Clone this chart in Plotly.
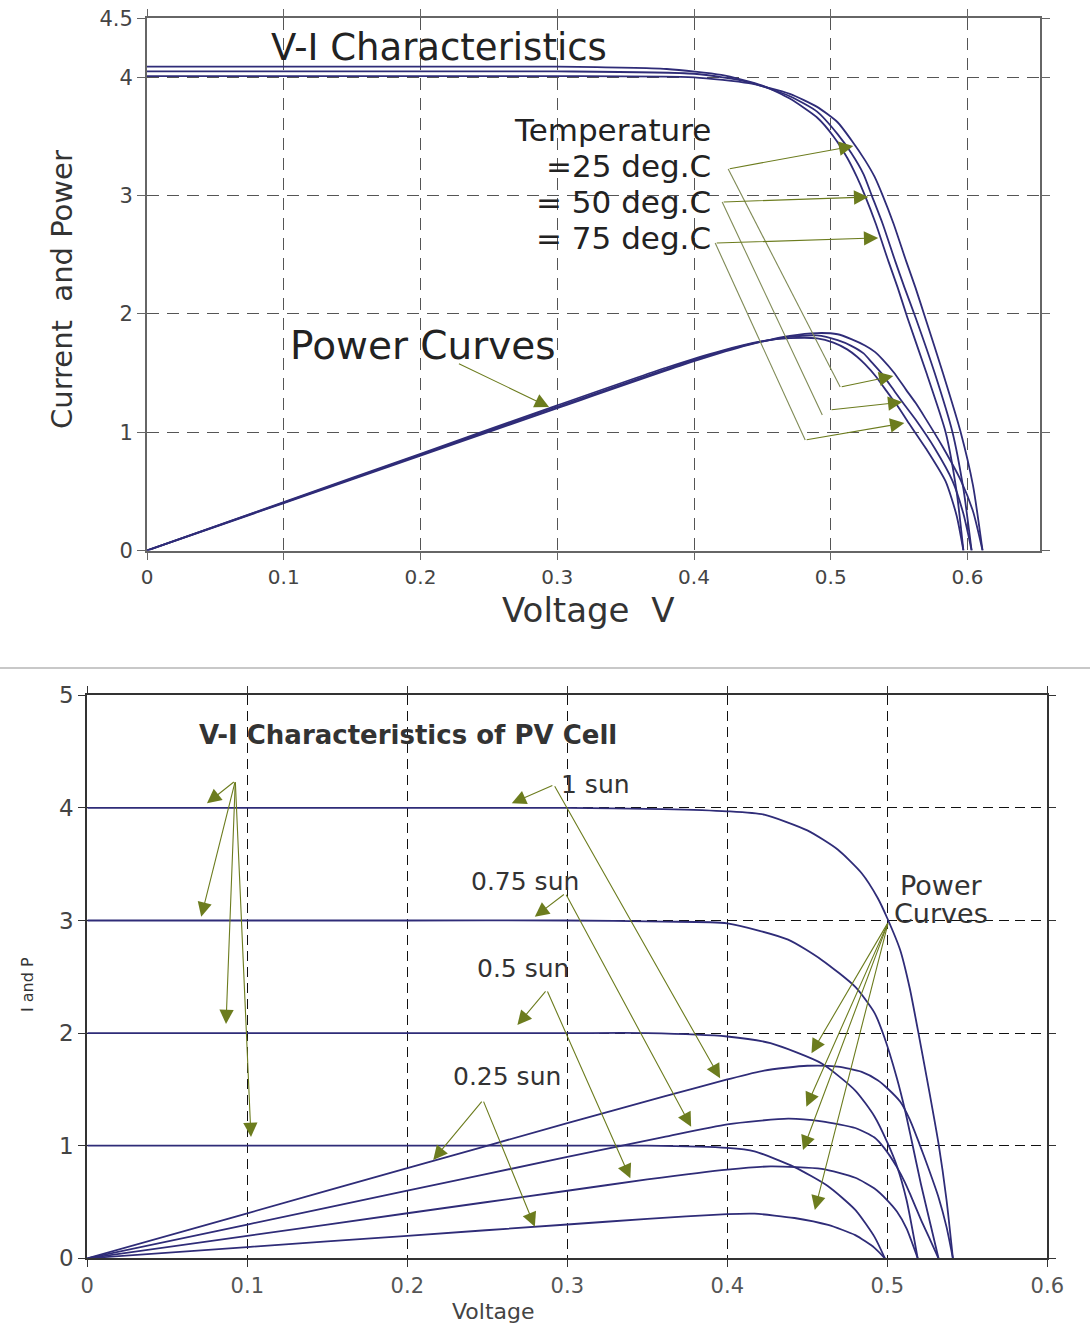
import plotly.graph_objects as go

# ---------------- data: top chart (temperature effect) ----------------
iv_a_v = [0, 0.1, 0.2, 0.3, 0.40, 0.44, 0.47, 0.49, 0.505, 0.515, 0.525, 0.532, 0.538, 0.546, 0.555, 0.562, 0.569, 0.582, 0.595, 0.604, 0.611]
iv_a_i = [4.01, 4.01, 4.01, 4.01, 4.0, 3.95, 3.86, 3.75, 3.62, 3.47, 3.30, 3.16, 3.0, 2.76, 2.45, 2.22, 1.97, 1.50, 1.0, 0.55, 0]
iv_b_v = [0, 0.1, 0.2, 0.3, 0.40, 0.44, 0.47, 0.49, 0.505, 0.515, 0.524, 0.530, 0.538, 0.547, 0.554, 0.562, 0.576, 0.589, 0.597, 0.603]
iv_b_i = [4.05, 4.05, 4.05, 4.05, 4.03, 3.96, 3.84, 3.71, 3.52, 3.36, 3.18, 3.0, 2.76, 2.45, 2.22, 1.97, 1.50, 1.0, 0.52, 0]
iv_c_v = [0, 0.1, 0.2, 0.3, 0.38, 0.42, 0.45, 0.47, 0.49, 0.502, 0.512, 0.519, 0.525, 0.533, 0.542, 0.549, 0.556, 0.570, 0.584, 0.592, 0.597]
iv_c_i = [4.09, 4.09, 4.09, 4.09, 4.07, 4.02, 3.93, 3.82, 3.66, 3.50, 3.32, 3.16, 3.0, 2.76, 2.45, 2.22, 1.97, 1.50, 1.0, 0.50, 0]

pw_a_v = [0, 0.1, 0.2, 0.3, 0.4, 0.44, 0.47, 0.49, 0.505, 0.515, 0.525, 0.532, 0.538, 0.546, 0.555, 0.562, 0.569, 0.582, 0.595, 0.604, 0.611]
pw_a_p = [0, 0.401, 0.802, 1.203, 1.600, 1.738, 1.814, 1.838, 1.828, 1.787, 1.733, 1.681, 1.614, 1.507, 1.360, 1.248, 1.121, 0.873, 0.595, 0.332, 0]
pw_b_v = [0, 0.1, 0.2, 0.3, 0.4, 0.44, 0.47, 0.49, 0.505, 0.515, 0.524, 0.530, 0.538, 0.547, 0.554, 0.562, 0.576, 0.589, 0.597, 0.603]
pw_b_p = [0, 0.405, 0.81, 1.215, 1.612, 1.742, 1.805, 1.818, 1.778, 1.730, 1.666, 1.59, 1.485, 1.340, 1.230, 1.107, 0.864, 0.589, 0.310, 0]
pw_c_v = [0, 0.1, 0.2, 0.3, 0.38, 0.42, 0.45, 0.47, 0.49, 0.502, 0.512, 0.519, 0.525, 0.533, 0.542, 0.549, 0.556, 0.570, 0.584, 0.592, 0.597]
pw_c_p = [0, 0.409, 0.818, 1.227, 1.547, 1.688, 1.769, 1.795, 1.793, 1.757, 1.700, 1.640, 1.575, 1.471, 1.328, 1.219, 1.095, 0.855, 0.584, 0.296, 0]

top_xticks = [0, 0.1, 0.2, 0.3, 0.4, 0.5, 0.6]
top_xlabels = ["0", "0.1", "0.2", "0.3", "0.4", "0.5", "0.6"]
top_yticks = [0, 1, 2, 3, 4, 4.5]
top_ylabels = ["0", "1", "2", "3", "4", "4.5"]

# ---------------- data: bottom chart (irradiance effect) ----------------
sun1_v = [0, 0.1, 0.2, 0.3, 0.36, 0.4, 0.423, 0.45, 0.469, 0.484, 0.494, 0.5, 0.508, 0.514, 0.52, 0.526, 0.532, 0.537, 0.541]
sun1_i = [4.0, 4.0, 4.0, 4.0, 3.99, 3.97, 3.94, 3.80, 3.63, 3.42, 3.20, 3.02, 2.74, 2.40, 1.96, 1.5, 1.02, 0.52, 0]
sun1_p = [0, 0.40, 0.80, 1.20, 1.436, 1.588, 1.667, 1.71, 1.702, 1.655, 1.581, 1.510, 1.392, 1.234, 1.019, 0.789, 0.543, 0.279, 0]
sun075_v = [0, 0.1, 0.2, 0.3, 0.36, 0.4, 0.438, 0.459, 0.48, 0.492, 0.498, 0.506, 0.511, 0.515, 0.521, 0.527, 0.532]
sun075_i = [3.0, 3.0, 3.0, 3.0, 2.99, 2.975, 2.83, 2.65, 2.41, 2.18, 1.97, 1.6, 1.32, 1.06, 0.66, 0.30, 0]
sun075_p = [0, 0.30, 0.60, 0.90, 1.076, 1.19, 1.240, 1.216, 1.157, 1.073, 0.981, 0.810, 0.675, 0.546, 0.344, 0.158, 0]
sun05_v = [0, 0.1, 0.2, 0.3, 0.35, 0.4, 0.427, 0.459, 0.48, 0.492, 0.5, 0.506, 0.512, 0.519]
sun05_i = [2.0, 2.0, 2.0, 2.0, 2.0, 1.97, 1.91, 1.73, 1.49, 1.26, 1.03, 0.82, 0.52, 0]
sun05_p = [0, 0.2, 0.4, 0.6, 0.70, 0.788, 0.816, 0.794, 0.715, 0.620, 0.515, 0.415, 0.266, 0]
sun025_v = [0, 0.1, 0.2, 0.3, 0.35, 0.4, 0.417, 0.442, 0.463, 0.48, 0.492, 0.4985]
sun025_i = [1.0, 1.0, 1.0, 1.0, 1.0, 0.98, 0.95, 0.81, 0.64, 0.43, 0.19, 0]
sun025_p = [0, 0.1, 0.2, 0.3, 0.35, 0.392, 0.396, 0.358, 0.296, 0.206, 0.093, 0]

bot_xticks = [0, 0.1, 0.2, 0.3, 0.4, 0.5, 0.6]
bot_xlabels = ["0", "0.1", "0.2", "0.3", "0.4", "0.5", "0.6"]
bot_yticks = [0, 1, 2, 3, 4, 5]
bot_ylabels = ["0", "1", "2", "3", "4", "5"]

CURVE = "#2f2c78"
ARROW = "#6c7c1e"
SHAFT = "#7f8a55"
FONT = "DejaVu Sans"

fig = go.Figure()

def add_curve(v, y, xa, ya, color=CURVE):
    fig.add_trace(go.Scatter(x=v, y=y, mode="lines", xaxis=xa, yaxis=ya,
                             line=dict(color=color, width=1.8, shape="spline", smoothing=0.6),
                             hoverinfo="skip", showlegend=False))

for v, y in [(iv_a_v, iv_a_i), (iv_b_v, iv_b_i), (iv_c_v, iv_c_i),
             (pw_a_v, pw_a_p), (pw_b_v, pw_b_p), (pw_c_v, pw_c_p)]:
    add_curve(v, y, "x", "y")

for v, i, p in [(sun1_v, sun1_i, sun1_p), (sun075_v, sun075_i, sun075_p),
                (sun05_v, sun05_i, sun05_p), (sun025_v, sun025_i, sun025_p)]:
    add_curve(v, i, "x2", "y2")
    add_curve(v, p, "x2", "y2")

H = 1327.0
W = 1090.0
annotations = []
shapes = []

def text(x, y, s, size, xr="x", yr="y", xanchor="center", color="#222", weight="normal"):
    annotations.append(dict(x=x, y=y, xref=xr, yref=yr, text=s, showarrow=False,
                            xanchor=xanchor, yanchor="middle",
                            font=dict(family=FONT, size=size, color=color, weight=weight)))

def arrow(x0, y0, x1, y1, xr="x", yr="y"):
    annotations.append(dict(x=x1, y=y1, ax=x0, ay=y0, xref=xr, yref=yr, axref=xr, ayref=yr,
                            text="", showarrow=True, arrowhead=2, arrowsize=2.6,
                            arrowwidth=1.1, arrowcolor=ARROW, standoff=0))

def seg(x0, y0, x1, y1, xr="x", yr="y"):
    shapes.append(dict(type="line", x0=x0, y0=y0, x1=x1, y1=y1, xref=xr, yref=yr,
                       line=dict(color=SHAFT, width=1.1)))

def paper_text(px, py, s, size, color="#333", angle=0):
    annotations.append(dict(x=px / W, y=1 - py / H, xref="paper", yref="paper", text=s,
                            showarrow=False, textangle=angle, xanchor="center", yanchor="middle",
                            font=dict(family=FONT, size=size, color=color)))

# ---- top chart texts ----
text(0.2136, 4.256, "V-I Characteristics", 37)
text(0.2019, 1.737, "Power Curves", 39)
text(0.414, 3.555, "Temperature", 31, xanchor="right")
text(0.414, 3.25, "=25 deg.C", 31, xanchor="right")
text(0.414, 2.946, "= 50 deg.C", 31, xanchor="right")
text(0.414, 2.641, "= 75 deg.C", 31, xanchor="right")

arrow(0.227, 1.585, 0.294, 1.213)
# temperature arrows to I-V curves
arrow(0.4250, 3.225, 0.5165, 3.419)
arrow(0.4206, 2.946, 0.5274, 2.988)
arrow(0.4155, 2.599, 0.5347, 2.642)
# elbow lines to power curves
seg(0.4250, 3.225, 0.5069, 1.382)
arrow(0.5069, 1.382, 0.5457, 1.475)
seg(0.4206, 2.946, 0.4938, 1.145)
arrow(0.4995, 1.188, 0.5523, 1.255)
seg(0.4155, 2.599, 0.4813, 0.934)
arrow(0.4813, 0.934, 0.5538, 1.078)

# ---- bottom chart texts ----
text(0.2004, 4.647, "V-I Characteristics of PV Cell", 26, "x2", "y2", color="#333", weight="bold")
text(0.3175, 4.212, "1 sun", 25, "x2", "y2", color="#333")
text(0.2736, 3.342, "0.75 sun", 25, "x2", "y2", color="#333")
text(0.2724, 2.578, "0.5 sun", 25, "x2", "y2", color="#333")
text(0.2624, 1.619, "0.25 sun", 25, "x2", "y2", color="#333")
text(0.5066, 3.307, "Power", 27, "x2", "y2", xanchor="left", color="#333")
text(0.5029, 3.058, "Curves", 27, "x2", "y2", xanchor="left", color="#333")

for tx, ty in [(0.0748, 4.041), (0.0712, 3.034), (0.0867, 2.081), (0.1023, 1.077)]:
    arrow(0.0925, 4.241, tx, ty, "x2", "y2")
arrow(0.2916, 4.205, 0.2653, 4.041, "x2", "y2")
arrow(0.2916, 4.205, 0.3955, 1.599, "x2", "y2")
arrow(0.2988, 3.241, 0.2797, 3.034, "x2", "y2")
arrow(0.2988, 3.241, 0.3774, 1.169, "x2", "y2")
arrow(0.2872, 2.383, 0.2688, 2.072, "x2", "y2")
arrow(0.2872, 2.383, 0.3394, 0.710, "x2", "y2")
arrow(0.2473, 1.405, 0.2162, 0.873, "x2", "y2")
arrow(0.2473, 1.405, 0.2797, 0.281, "x2", "y2")
for tx, ty in [(0.4526, 1.821), (0.4494, 1.346), (0.4473, 0.962), (0.4547, 0.429)]:
    arrow(0.5007, 2.988, tx, ty, "x2", "y2")

# axis titles
paper_text(62, 290, "Current  and Power", 29, angle=-90)
paper_text(588, 610, "Voltage  V", 34)
paper_text(28, 985, "I and P", 16, angle=-90)
paper_text(493, 1311, "Voltage", 22, color="#444")

# separator line between the two figures
shapes.append(dict(type="line", xref="paper", yref="paper", x0=0.0, x1=1.0,
                   y0=1 - 668 / H, y1=1 - 668 / H, line=dict(color="#c8c8c8", width=2)))

common_top = dict(showgrid=True, gridcolor="#555", griddash="12px,8px", gridwidth=1.3,
                  showline=True, linecolor="#666", linewidth=2, mirror="ticks",
                  ticks="outside", tickcolor="#666", zeroline=False, automargin=False)
common_bot = dict(showgrid=True, gridcolor="#111", griddash="10px,6px", gridwidth=1.3,
                  showline=True, linecolor="#333", linewidth=2, mirror="ticks",
                  ticks="outside", tickcolor="#333", zeroline=False, automargin=False)

fig.update_layout(
    width=1090, height=1327, margin=dict(l=0, r=0, t=0, b=0, autoexpand=False),
    paper_bgcolor="white", plot_bgcolor="white", showlegend=False,
    annotations=annotations, shapes=shapes,
    xaxis=dict(domain=[147 / W, 1040 / W], range=[0, 0.653], anchor="y",
               tickvals=top_xticks, ticktext=top_xlabels, ticklen=7,
               tickfont=dict(family=FONT, size=20, color="#444"), **common_top),
    yaxis=dict(domain=[1 - 550.5 / H, 1 - 18.15 / H], range=[0, 4.5], anchor="x",
               tickvals=top_yticks, ticktext=top_ylabels, ticklen=8,
               tickfont=dict(family=FONT, size=21, color="#444"), **common_top),
    xaxis2=dict(domain=[87.3 / W, 1047.3 / W], range=[0, 0.6], anchor="y2",
                tickvals=bot_xticks, ticktext=bot_xlabels, ticklen=7,
                tickfont=dict(family=FONT, size=21, color="#555"), **common_bot),
    yaxis2=dict(domain=[1 - 1258.3 / H, 1 - 695.3 / H], range=[0, 5], anchor="x2",
                tickvals=bot_yticks, ticktext=bot_ylabels, ticklen=7,
                tickfont=dict(family=FONT, size=23, color="#444"), **common_bot),
)

fig.write_html("out.html")
